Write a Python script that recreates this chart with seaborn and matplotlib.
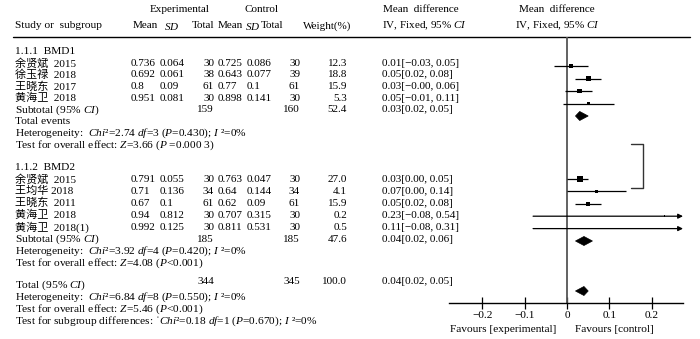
import numpy as np
import pandas as pd
import matplotlib
matplotlib.use("Agg")
import matplotlib.pyplot as plt
import seaborn as sns
from matplotlib.patches import Polygon

# ---------------- data ----------------
studies1 = ["余贤斌  2015", "徐玉禄  2018", "王晓东  2017", "黄海卫  2018"]
exp_mean1 = ["0.736", "0.692", "0.8", "0.951"]
exp_sd1 = ["0.064", "0.061", "0.09", "0.081"]
exp_n1 = ["30", "38", "61", "30"]
ctl_mean1 = ["0.725", "0.643", "0.77", "0.898"]
ctl_sd1 = ["0.086", "0.077", "0.1", "0.141"]
ctl_n1 = ["30", "39", "61", "30"]
weight1 = [12.3, 18.8, 15.9, 5.3]
md1 = [0.01, 0.05, 0.03, 0.05]
lo1 = [-0.03, 0.02, -0.004, -0.01]
hi1 = [0.05, 0.08, 0.06, 0.11]
sub1 = {"n_e": "159", "n_c": "160", "w": "52.4", "md": 0.03, "lo": 0.02, "hi": 0.05}

studies2 = ["余贤斌  2015", "王均华 2018", "王晓东  2011", "黄海卫  2018", "黄海卫  2018(1)"]
exp_mean2 = ["0.791", "0.71", "0.67", "0.94", "0.992"]
exp_sd2 = ["0.055", "0.136", "0.1", "0.812", "0.125"]
exp_n2 = ["30", "34", "61", "30", "30"]
ctl_mean2 = ["0.763", "0.64", "0.62", "0.707", "0.811"]
ctl_sd2 = ["0.047", "0.144", "0.09", "0.315", "0.531"]
ctl_n2 = ["30", "34", "61", "30", "30"]
weight2 = [27.0, 4.1, 15.9, 0.2, 0.5]
md2 = [0.03, 0.07, 0.05, 0.23, 0.11]
lo2 = [0.00, 0.00, 0.02, -0.08, -0.08]
hi2 = [0.05, 0.14, 0.08, 0.54, 0.31]
sub2 = {"n_e": "185", "n_c": "185", "w": "47.6", "md": 0.04, "lo": 0.02, "hi": 0.06}
total = {"n_e": "344", "n_c": "345", "w": "100.0", "md": 0.04, "lo": 0.02, "hi": 0.05}

het1 = r"Heterogeneity:  $\mathit{Chi}$²=2.74 $\mathit{df}$=3 ($\mathit{P}$=0.430); $\mathit{I}$ ²=0%"
eff1 = r"Test for overall effect: $\mathit{Z}$=3.66 ($\mathit{P}$ =0.000 3)"
het2 = r"Heterogeneity:  $\mathit{Chi}$²=3.92 $\mathit{df}$=4 ($\mathit{P}$=0.420); $\mathit{I}$ ²=0%"
eff2 = r"Test for overall effect: $\mathit{Z}$=4.08 ($\mathit{P}$<0.001)"
het_t = r"Heterogeneity:  $\mathit{Chi}$²=6.84 $\mathit{df}$=8 ($\mathit{P}$=0.550); $\mathit{I}$ ²=0%"
eff_t = r"Test for overall effect: $\mathit{Z}$=5.46 ($\mathit{P}$<0.001)"
sub_t = r"Test for subgroup differences: ˈ$\mathit{Chi}$²=0.18 $\mathit{df}$=1 ($\mathit{P}$=0.670); $\mathit{I}$ ²=0%"

xticks = [-0.2, -0.1, 0, 0.1, 0.2]
xticklabels = ["−0.2", "−0.1", "0", "0.1", "0.2"]

# ---------------- style ----------------
sns.set_theme(style="white")
plt.rcParams["font.family"] = ["Liberation Serif", "Noto Sans CJK SC", "DejaVu Sans"]
plt.rcParams["mathtext.fontset"] = "custom"
plt.rcParams["mathtext.rm"] = "Liberation Serif"
plt.rcParams["mathtext.it"] = "Liberation Serif:italic"
plt.rcParams["mathtext.bf"] = "Liberation Serif:bold"
plt.rcParams["axes.unicode_minus"] = True

W, H = 700, 339
FS = 8.0      # table numbers / headers
FS_T = 8.2    # running text lines
fig = plt.figure(figsize=(W / 100, H / 100), dpi=100)
fig.patch.set_facecolor("white")

# text layer in pixel coordinates
axt = fig.add_axes([0, 0, 1, 1])
axt.set_xlim(0, W)
axt.set_ylim(H, 0)
axt.axis("off")

def put(x, y, s, ha="left", size=FS, **kw):
    axt.text(x, y, s, ha=ha, va="center", fontsize=size, color="black", **kw)

# column positions (px)
X_NAME, X_EM, X_ESD, X_EN, X_CM, X_CSD, X_CN, X_W, X_MD = 15, 131, 160, 214, 218, 247, 300, 347, 382

# headers
put(180, 9, "Experimental", ha="center")
put(262, 9, "Control", ha="center")
put(421, 9, "Mean  difference", ha="center")
put(557, 9, "Mean  difference", ha="center")
put(X_NAME, 26, "Study or  subgroup", size=FS_T)
put(133, 26, "Mean")
put(164, 26, r"$\mathit{SD}$")
put(214, 26, "Total", ha="right")
put(218, 26, "Mean")
put(245, 26, r"$\mathit{SD}$")
put(261, 26, "Total")
put(303, 26, "Weight(%)")
put(X_MD, 26, r"IV, Fixed, 95% $\mathit{CI}$")
put(557, 26, r"IV, Fixed, 95% $\mathit{CI}$", ha="center")
axt.plot([13, 690], [37, 37], color="black", lw=1.0)

def fmt_ci(m, l, h):
    s = f"{m:.2f}[{l:.2f}, {h:.2f}]"
    return s.replace("-", "−")

def table_rows(y_rows, names, em, esd, en, cm, csd, cn, w, md, lo, hi):
    for i, y in enumerate(y_rows):
        put(X_NAME, y, names[i])
        put(X_EM, y, em[i])
        put(X_ESD, y, esd[i])
        put(X_EN, y, en[i], ha="right")
        put(X_CM, y, cm[i])
        put(X_CSD, y, csd[i])
        put(X_CN, y, cn[i], ha="right")
        put(X_W, y, f"{w[i]:.1f}", ha="right")
        put(X_MD, y, fmt_ci(md[i], lo[i], hi[i]))

def subtotal_row(y, d, label=r"Subtotal (95% $\mathit{CI}$)", dy_label=0):
    put(X_NAME, y + dy_label, label, size=FS_T)
    put(X_EN, y, d["n_e"], ha="right")
    put(X_CN, y, d["n_c"], ha="right")
    put(X_W, y, d["w"], ha="right")
    put(X_MD, y, fmt_ci(d["md"], d["lo"], d["hi"]))

# group 1 text rows
g1 = 63 + 11.75 * np.arange(8)
put(X_NAME, 51, "1.1.1  BMD1", size=FS_T)
table_rows(g1[:4], studies1, exp_mean1, exp_sd1, exp_n1, ctl_mean1, ctl_sd1, ctl_n1,
           weight1, md1, lo1, hi1)
subtotal_row(g1[4], sub1)
put(X_NAME, g1[5], "Total events", size=FS_T)
put(X_NAME, g1[6], het1, size=FS_T)
put(X_NAME, g1[7], eff1, size=FS_T)

# group 2 text rows
g2 = 179 + 12.0 * np.arange(8)
put(X_NAME, 167, "1.1.2  BMD2", size=FS_T)
table_rows(g2[:5], studies2, exp_mean2, exp_sd2, exp_n2, ctl_mean2, ctl_sd2, ctl_n2,
           weight2, md2, lo2, hi2)
subtotal_row(g2[5], sub2)
put(X_NAME, g2[6], het2, size=FS_T)
put(X_NAME, g2[7], eff2, size=FS_T)

# overall
subtotal_row(282, total, label=r"Total (95% $\mathit{CI}$)", dy_label=3)
put(X_NAME, 297, het_t, size=FS_T)
put(X_NAME, 309, eff_t, size=FS_T)
put(X_NAME, 321, sub_t, size=FS_T)

put(556, 330, "Favours [experimental]", ha="right", size=FS_T)
put(575, 330, "Favours [control]", ha="left", size=FS_T)

# stray bracket from the original figure
axt.plot([631, 643, 643, 631], [144, 144, 188, 188], color="#333333", lw=1.0)

# ---------------- forest plot ----------------
fx0, fx1, fy0, fy1 = 449, 683, 37, 303
axf = fig.add_axes([fx0 / W, 1 - fy1 / H, (fx1 - fx0) / W, (fy1 - fy0) / H])
axf.set_facecolor("none")
px_per_unit = 424.0
axf.set_xlim((fx0 - 567) / px_per_unit, (fx1 - 567) / px_per_unit)
axf.set_ylim(fy1, fy0)
xmax = axf.get_xlim()[1]

rows1 = 66 + 12.5 * np.arange(5)
rows2 = 179 + 12.4 * np.arange(6)
row_total = 291

df = pd.DataFrame({
    "md": md1 + md2,
    "lo": lo1 + lo2,
    "hi": hi1 + hi2,
    "weight": weight1 + weight2,
    "row": list(rows1[:4]) + list(rows2[:5]),
})

axf.axvline(0, color="#555555", lw=1.3, zorder=1)

for _, r in df.iterrows():
    if r["hi"] > xmax:
        axf.annotate("", xy=(xmax, r["row"]), xytext=(r["lo"], r["row"]),
                     arrowprops=dict(arrowstyle="-|>", color="black", lw=0.9,
                                     mutation_scale=7, shrinkA=0, shrinkB=0),
                     annotation_clip=False, zorder=2)
    else:
        axf.hlines(r["row"], r["lo"], r["hi"], color="black", lw=0.9, zorder=2)

sns.scatterplot(data=df, x="md", y="row", size="weight", sizes=(1.0, 17.0),
                size_norm=(0, 27), marker="s", color="black", linewidth=0,
                legend=False, ax=axf, zorder=3)

def diamond(d, y, hh=4.5):
    poly = Polygon([(d["lo"], y), (d["md"], y - hh), (d["hi"], y), (d["md"], y + hh)],
                   closed=True, facecolor="black", edgecolor="black", lw=0.5, zorder=3)
    axf.add_patch(poly)

diamond(sub1, rows1[4])
diamond(sub2, rows2[5])
diamond(total, row_total)

axf.set_xlabel("")
axf.set_ylabel("")
axf.set_yticks([])
axf.set_xticks(xticks)
axf.set_xticklabels(xticklabels)
for side in ["top", "left", "right"]:
    axf.spines[side].set_visible(False)
axf.spines["bottom"].set_color("black")
axf.spines["bottom"].set_linewidth(1.0)
axf.tick_params(axis="x", bottom=True, direction="inout", length=8, width=0.9,
                colors="black", labelsize=FS_T, pad=2)

fig.savefig("out.png", dpi=100, facecolor="white")
